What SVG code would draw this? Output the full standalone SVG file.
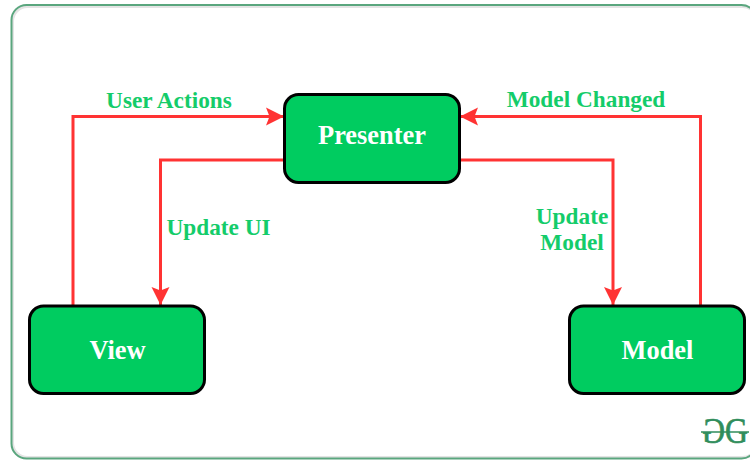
<svg xmlns="http://www.w3.org/2000/svg" width="750" height="461" viewBox="0 0 750 461">
<style>
.node{fill:#00cc60;stroke:#000;stroke-width:3}
.nt{font:bold 26.400px "Liberation Serif",serif;fill:#fff;text-anchor:middle}
.lb{font:bold 23.300px "Liberation Serif",serif;fill:#14cc6a;text-anchor:middle}
.c{fill:none;stroke:#ff3333;stroke-width:3}
.gg{font:36px "Liberation Serif",serif;fill:#2f8d5b;stroke:#2f8d5b;stroke-width:.7}
</style>
<defs>
<marker id="a" markerUnits="userSpaceOnUse" markerWidth="20" markerHeight="20" refX="18" refY="10" orient="auto"><path d="M0 1L18 10L0 19L3.500 10Z" fill="#ff3333"/></marker>
</defs>
<rect x="12.500" y="6.500" width="745" height="451" rx="15" fill="#fff" stroke="#e4e4e4" stroke-width="3"/>
<rect x="11.500" y="5" width="745" height="453.500" rx="15" fill="none" stroke="#5aa67e" stroke-width="2"/>
<g id="connectors">
<path class="c" d="M73 305V116.500H284" marker-end="url(#a)"/>
<path class="c" d="M284 160H160.500V305" marker-end="url(#a)"/>
<path class="c" d="M460 160H613V305" marker-end="url(#a)"/>
<path class="c" d="M700.500 305V116.500H460" marker-end="url(#a)"/>
</g>
<g id="presenter"><rect class="node" x="284.500" y="94.500" width="175" height="88" rx="14"/><text class="nt" x="372" y="144">Presenter</text></g>
<g id="view"><rect class="node" x="29.500" y="306" width="175" height="87.500" rx="14"/><text class="nt" x="117.500" y="359">View</text></g>
<g id="model"><rect class="node" x="569.500" y="306" width="175" height="87.500" rx="14"/><text class="nt" x="657.500" y="359">Model</text></g>
<g id="labels">
<text class="lb" x="169" y="108">User Actions</text>
<text class="lb" x="586" y="107">Model Changed</text>
<text class="lb" x="218.500" y="235">Update UI</text>
<text class="lb" x="572" y="224">Update</text>
<text class="lb" x="572" y="250">Model</text>
</g>
<g id="logo">
<text class="gg" transform="translate(725 443) scale(-0.880 1)">G</text>
<text class="gg" transform="translate(725 443) scale(0.880 1)">G</text>
<line x1="701" y1="432" x2="749" y2="432" stroke="#2f8d5b" stroke-width="1.500"/>
</g>
</svg>
